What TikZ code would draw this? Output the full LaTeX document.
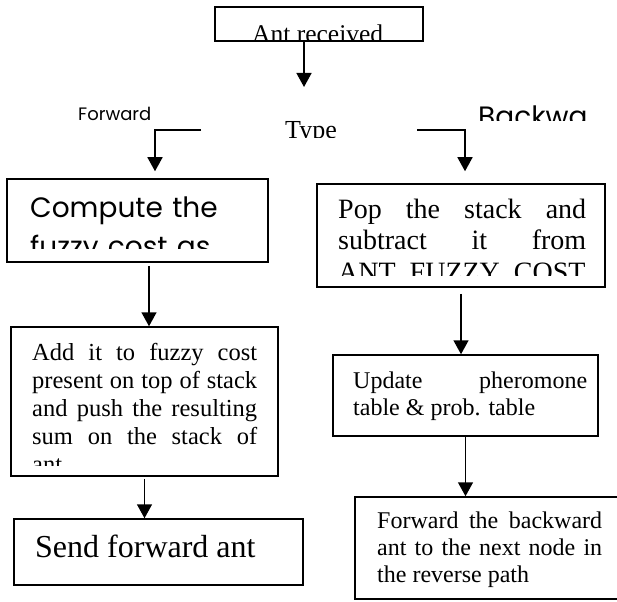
\documentclass[tikz,border=0pt]{standalone}
\usepackage{fontspec}
\setmainfont{Liberation Serif}
\newfontfamily\gothic{Poppins}
\usetikzlibrary{arrows.meta}

\tikzset{
  box/.style={draw, line width=1.5pt, inner sep=0pt},
  flow/.style={line width=1.5pt, -{Triangle[length=14pt,width=15pt]}},
  txt/.style={inner sep=0pt, anchor=base west},
  para/.style={txt, align=justify}
}

\begin{document}
\begin{tikzpicture}[x=1pt,y=-1pt]

\useasboundingbox (0,0) rectangle (617,601);

% boxes
\node[box, minimum width=208pt, minimum height=34pt] (recv) at (319,24) {};
\node[box, minimum width=261pt, minimum height=83pt] (comp) at (137.5,220.5) {};
\node[box, minimum width=267pt, minimum height=149pt] (add) at (144.5,401.5) {};
\node[box, minimum width=289pt, minimum height=66pt] (send) at (158.5,552) {};
\node[box, minimum width=288pt, minimum height=103pt] (pop) at (461,235.5) {};
\node[box, minimum width=265pt, minimum height=81pt] (upd) at (465.5,395.5) {};
\node[box, minimum width=265pt, minimum height=102pt] (fwd) at (487.5,548) {};

% texts
\begin{scope}
  \clip (recv.north west) rectangle ([yshift=2pt]recv.south east);
  \node[txt, font=\fontsize{25.5}{30}\selectfont] (recvtxt) at (252,43) {Ant received};
\end{scope}

\begin{scope}
  \clip (0,95) rectangle (617,120.5);
  \node[txt, font=\gothic\fontsize{18}{20}\selectfont] (fwdlabel) at (78,121) {Forward};
  \node[txt, font=\gothic\fontsize{28}{30}\selectfont] (bwdlabel) at (478,127) {Backwa};
\end{scope}

\begin{scope}
  \clip (0,110) rectangle (617,137.5);
  \node[txt, font=\fontsize{26}{30}\selectfont] (typelabel) at (285,139) {Type};
\end{scope}

\begin{scope}
  \clip (comp.north west) rectangle ([yshift=14pt]comp.south east);
  \node[txt, text width=240pt, align=left, font=\gothic\fontsize{28}{39}\selectfont] (comptxt) at (30,218) {Compute the\\fuzzy cost as};
\end{scope}

\begin{scope}
  \clip (add.north west) rectangle ([yshift=11pt]add.south east);
  \node[para, text width=225pt, font=\fontsize{24.5}{28}\selectfont] (addtxt) at (32,360)
    {Add it to fuzzy cost\linebreak present on top of stack\linebreak and push the resulting\linebreak sum on the stack of\linebreak ant};
\end{scope}

\node[txt, font=\fontsize{32}{36}\selectfont] (sendtxt) at (35,557) {Send forward ant};

\begin{scope}
  \clip (pop.north west) rectangle ([yshift=12pt]pop.south east);
  \node[para, text width=248pt, font=\fontsize{28}{31}\selectfont] (poptxt) at (338,219)
    {Pop the stack and\linebreak subtract it from\linebreak ANT\_FUZZY\_COST};
\end{scope}

\node[para, text width=234pt, font=\fontsize{24}{27}\selectfont] (updtxt) at (353,388)
  {Update pheromone\linebreak table \& prob. table};

\node[para, text width=225pt, font=\fontsize{24}{27}\selectfont] (fwdtxt) at (377,528)
  {Forward the backward\linebreak ant to the next node in\linebreak the reverse path};

% connectors
\coordinate (split) at (304,87);
\coordinate (lstart) at (201,130);
\coordinate (lturn) at (155,130);
\coordinate (rstart) at (417,130);
\coordinate (rturn) at (465,130);

\draw[flow] (recv.south -| split) -- (split);
\draw[flow] (lstart) -- (lturn) -- ([yshift=7pt]lturn |- comp.north);
\draw[flow] (rstart) -- (rturn) -- ([yshift=12pt]rturn |- pop.north);
\draw[flow] ([xshift=11.5pt,yshift=-3pt]comp.south) -- ([xshift=11.5pt]comp.south |- add.north);
\draw[flow] ([yshift=-2pt]add.south) -- (add.south |- send.north);
\draw[flow] ([yshift=-6pt]pop.south) -- (pop.south |- upd.north);
\draw[flow] (upd.south) -- (upd.south |- fwd.north);

\end{tikzpicture}
\end{document}
